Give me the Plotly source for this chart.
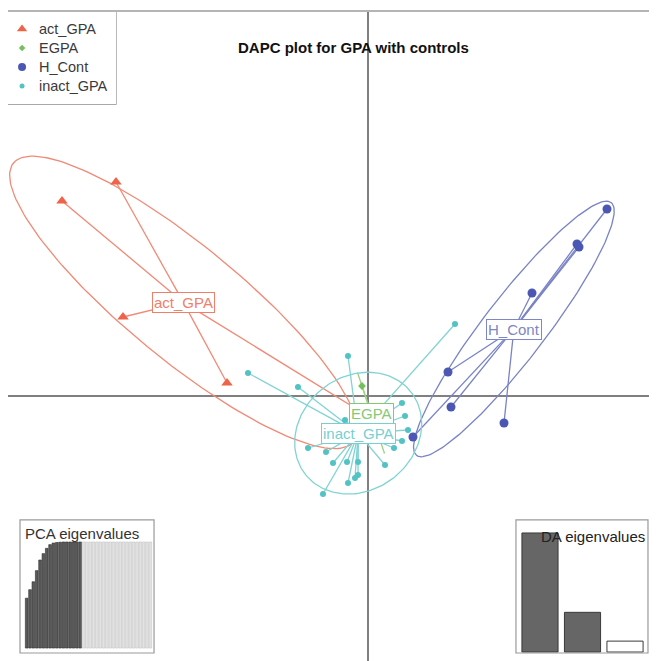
import numpy as np
import plotly.graph_objects as go

# ---------------- data (LD1 / LD2 scores) ----------------
groups = ["act_GPA", "EGPA", "H_Cont", "inact_GPA"]

act_x = [-6.12, -5.04, -4.90, -2.82, 0.42]
act_y = [3.90, 4.28, 1.58, 0.26, -0.66]

egpa_x = [-0.12, 0.24]
egpa_y = [0.20, -0.88]

hc_x = [4.78, 4.18, 4.22, 3.28, 1.60, 1.66, 2.72, 0.90]
hc_y = [3.74, 3.04, 2.98, 2.06, 0.48, -0.22, -0.54, -0.82]

inact_x = [-0.40, -2.40, -1.40, 0.68, 0.74, 0.80, 0.68, 0.52, 0.34, -1.20, -0.84, -0.70,
           -0.42, -0.20, -0.20, -0.26, -0.40, -0.90, 1.74, -0.46, 0.04, -0.66, 0.34, -0.16]
inact_y = [0.80, 0.46, 0.18, -0.14, -0.40, -0.68, -0.90, -1.04, -1.38, -1.04, -1.12, -1.34,
           -1.32, -1.32, -1.58, -1.64, -1.74, -1.96, 1.44, -0.48, -0.64, -0.72, -0.48, -0.80]

# PCA inset: cumulative variance (%) per PC; first n retained are dark
pca_cumvar = [47, 55, 62.5, 73, 83, 89, 94, 97.5, 99, 99.5, 99.8, 100, 100, 100, 100, 100, 100,
              100, 100, 100, 100, 100, 100, 100, 100, 100, 100, 100, 100, 100, 100, 100, 100,
              100, 100, 100, 100, 100]
n_pca_retained = 17

# DA inset eigenvalues; first n retained are dark
da_eig = [12.0, 4.0, 1.1]
n_da_retained = 2

# ---------------- styles ----------------
FONT = "Liberation Sans, Arial"
pt_col = {"act_GPA": "#EE6349", "EGPA": "#74C05A", "H_Cont": "#4B57B2", "inact_GPA": "#52C2C4"}
ln_col = {"act_GPA": "#F08A76", "EGPA": "#9BD283", "H_Cont": "#7A83C6", "inact_GPA": "#82D3D3"}
lab_col = {"act_GPA": "#F07F69", "EGPA": "#86C974", "H_Cont": "#7D86C6", "inact_GPA": "#78CFD0"}
symbols = {"act_GPA": "triangle-up", "EGPA": "diamond", "H_Cont": "circle", "inact_GPA": "circle"}
sizes = {"act_GPA": 10, "EGPA": 6, "H_Cont": 9, "inact_GPA": 6}
leg_sizes = {"act_GPA": 9, "EGPA": 5, "H_Cont": 8, "inact_GPA": 5}

data = {
    "act_GPA": (act_x, act_y),
    "EGPA": (egpa_x, egpa_y),
    "H_Cont": (hc_x, hc_y),
    "inact_GPA": (inact_x, inact_y),
}


def ellipse(x, y, k=1.5, n=180):
    x = np.asarray(x, float)
    y = np.asarray(y, float)
    mx, my = x.mean(), y.mean()
    cov = np.cov(np.vstack([x, y]), bias=True)
    vals, vecs = np.linalg.eigh(cov)
    vals = np.clip(vals, 0, None)
    t = np.linspace(0, 2 * np.pi, n)
    pts = vecs @ np.vstack([k * np.sqrt(vals[0]) * np.cos(t), k * np.sqrt(vals[1]) * np.sin(t)])
    return mx + pts[0], my + pts[1]


def star(x, y):
    mx, my = float(np.mean(x)), float(np.mean(y))
    xs, ys = [], []
    for a, b in zip(x, y):
        xs += [mx, a, None]
        ys += [my, b, None]
    return xs, ys


fig = go.Figure()

# ellipses and stars
for g in groups:
    x, y = data[g]
    ex, ey = ellipse(x, y)
    fig.add_trace(go.Scatter(x=ex, y=ey, mode="lines", line=dict(color=ln_col[g], width=1.3),
                             showlegend=False, hoverinfo="skip"))
    sx, sy = star(x, y)
    fig.add_trace(go.Scatter(x=sx, y=sy, mode="lines", line=dict(color=ln_col[g], width=1.3),
                             showlegend=False, hoverinfo="skip"))

# points
for g in groups:
    x, y = data[g]
    fig.add_trace(go.Scatter(x=x, y=y, mode="markers", name=g, showlegend=False,
                             marker=dict(symbol=symbols[g], size=sizes[g], color=pt_col[g],
                                         line=dict(width=0))))

# group labels at centroids
annotations = []
for g in groups:
    x, y = data[g]
    annotations.append(dict(x=float(np.mean(x)), y=float(np.mean(y)), xref="x", yref="y",
                            text=g, showarrow=False, xanchor="center", yanchor="middle",
                            font=dict(family=FONT, size=15, color=lab_col[g]),
                            bgcolor="white", bordercolor=lab_col[g], borderwidth=1, borderpad=1))

# PCA eigenvalues inset
pca_idx = list(range(len(pca_cumvar)))
pca_colors = ["#5a5a5a" if i < n_pca_retained else "#e2e2e2" for i in pca_idx]
pca_lines = ["#2e2e2e" if i < n_pca_retained else "#c6c6c6" for i in pca_idx]
fig.add_trace(go.Bar(x=pca_idx, y=pca_cumvar, xaxis="x2", yaxis="y2", width=0.8,
                     marker=dict(color=pca_colors, line=dict(color=pca_lines, width=0.6)),
                     showlegend=False, hoverinfo="skip"))

# DA eigenvalues inset
da_idx = list(range(len(da_eig)))
da_colors = ["#666666" if i < n_da_retained else "#ffffff" for i in da_idx]
fig.add_trace(go.Bar(x=da_idx, y=da_eig, xaxis="x3", yaxis="y3", width=0.85,
                     marker=dict(color=da_colors, line=dict(color="#3a3a3a", width=1)),
                     showlegend=False, hoverinfo="skip"))

# legend (drawn in its own small axes box in the top-left corner)
leg_rows = [0.815 - i * 0.2065 for i in range(len(groups))]
for g, ly in zip(groups, leg_rows):
    fig.add_trace(go.Scatter(x=[0.13], y=[ly], xaxis="x4", yaxis="y4", mode="markers",
                             marker=dict(symbol=symbols[g], size=leg_sizes[g], color=pt_col[g],
                                         line=dict(width=0)),
                             showlegend=False, hoverinfo="skip"))
    annotations.append(dict(x=0.265, y=ly, xref="x4", yref="y4", text=g, showarrow=False,
                            xanchor="left", yanchor="middle",
                            font=dict(family=FONT, size=14.5, color="#3a3a3a")))

annotations += [
    dict(x=0.5316, y=0.946, xref="paper", yref="paper", text="<b>DAPC plot for GPA with controls</b>",
         showarrow=False, xanchor="center", yanchor="middle",
         font=dict(family=FONT, size=15, color="#111")),
    dict(x=0.0231, y=0.1957, xref="paper", yref="paper", text="PCA eigenvalues", xanchor="left",
         yanchor="middle", showarrow=False, font=dict(family=FONT, size=15, color="#333")),
    dict(x=0.9846, y=0.1926, xref="paper", yref="paper", text="DA eigenvalues", xanchor="right",
         yanchor="middle", showarrow=False, font=dict(family=FONT, size=15, color="#222")),
]

shapes = [
    dict(type="rect", xref="paper", yref="paper", x0=0.0185, x1=0.225, y0=0.0123, y1=0.2173,
         line=dict(color="#9a9a9a", width=1.2), layer="above"),
    dict(type="rect", xref="paper", yref="paper", x0=0.7827, x1=0.9861, y0=0.0123, y1=0.2173,
         line=dict(color="#9a9a9a", width=1.2), layer="above"),
    dict(type="rect", xref="paper", yref="paper", x0=0.0, x1=0.1664, y0=0.8582, y1=1.0,
         line=dict(color="#8a8a8a", width=1.2), fillcolor="white", layer="below"),
]

fig.update_layout(
    width=649, height=653,
    margin=dict(l=0, r=0, t=4, b=0, pad=0),
    paper_bgcolor="white", plot_bgcolor="white",
    font=dict(family=FONT),
    xaxis=dict(range=[-7.2, 5.78], showgrid=False, zeroline=True, zerolinecolor="#808080",
               zerolinewidth=1.6, showticklabels=False, ticks="", showline=True, side="top",
               linecolor="#b5b5b5", linewidth=1.5),
    yaxis=dict(range=[-5.3, 7.68], showgrid=False, zeroline=True, zerolinecolor="#808080",
               zerolinewidth=1.6, showticklabels=False, ticks="", showline=True, side="left",
               linecolor="#b5b5b5", linewidth=1.5),
    xaxis2=dict(domain=[0.0185, 0.225], anchor="y2", range=[-2.0, 38.1], visible=False),
    yaxis2=dict(domain=[0.0123, 0.2173], anchor="x2", range=[-4.7, 120.75], visible=False),
    xaxis3=dict(domain=[0.7827, 0.9861], anchor="y3", range=[-0.565, 2.54], visible=False),
    yaxis3=dict(domain=[0.0123, 0.2173], anchor="x3", range=[-0.1, 13.31], visible=False),
    xaxis4=dict(domain=[0.0, 0.1664], anchor="y4", range=[0, 1], visible=False),
    yaxis4=dict(domain=[0.8582, 1.0], anchor="x4", range=[0, 1], visible=False),
    annotations=annotations,
    shapes=shapes,
    showlegend=False,
)

fig.write_html("out.html")
